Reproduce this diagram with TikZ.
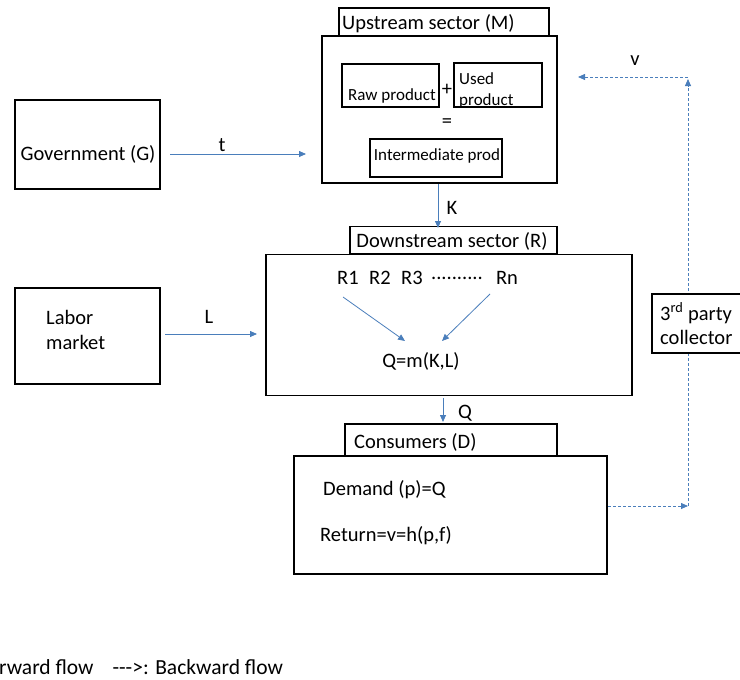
\documentclass[tikz,border=0pt]{standalone}
\usepackage{fontspec}
\setmainfont{Carlito}
\usetikzlibrary{arrows.meta}
\definecolor{flowblue}{HTML}{4A7EBB}

\begin{document}
\begin{tikzpicture}[x=1pt,y=-1pt,
  point/.style={coordinate},
  box/.style={draw=black, line width=1.6pt, rectangle, inner sep=0pt, fill=white},
  txt/.style={inner sep=0pt, font=\fontsize{20.5}{24.5}\selectfont},
  small/.style={inner sep=0pt, font=\fontsize{17}{21}\selectfont},
  fwd/.style={draw=flowblue, line width=0.8pt, -{Triangle[length=7pt,width=6pt]}},
  bwd/.style={fwd, dash pattern=on 3pt off 2pt}]
\useasboundingbox (0,0) rectangle (740,680);
% upstream
\node[box, minimum width=210pt, minimum height=28pt] (upt) at (444,22) {};
\node[txt, anchor=west] (uptx) at (342,24) {Upstream sector (M)};
\node[box, minimum width=235pt, minimum height=147pt] (up) at (439.5,109.5) {};
\node[box, minimum width=97pt, minimum height=43pt] (raw) at (390.5,85.5) {};
\node[small] (rawx) at (392,96) {Raw product};
\node[txt] (plus) at (447,90) {+};
\node[box, minimum width=88pt, minimum height=44pt] (used) at (498,85) {};
\node[small, anchor=west, align=left] (usedx) at (459,90) {Used\\product};
\node[txt] (eq) at (447,123) {=};
\node[box, minimum width=132pt, minimum height=38pt] (inter) at (436,158) {};
\node[small] (interx) at (437,156) {Intermediate prod};
% government and labor
\node[box, minimum width=145pt, minimum height=89pt] (gov) at (87.5,144.5) {};
\node[txt] (govx) at (88,154) {Government (G)};
\node[box, minimum width=145pt, minimum height=96pt] (lab) at (87.5,336) {};
\node[txt, anchor=west, align=left] (labx) at (46,330) {Labor\\market};
% downstream
\node[box, minimum width=207pt, minimum height=27pt] (dnt) at (453.5,240) {};
\node[txt] (dntx) at (452,241) {Downstream sector (R)};
\node[box, minimum width=366pt, minimum height=141pt] (dn) at (449,325) {};
\node[txt] (r1) at (348,278) {R1};
\node[txt] (r2) at (380,278) {R2};
\node[txt] (r3) at (412,278) {R3};
\node[txt] (rdots) at (457,278) {..........};
\node[txt] (rn) at (507,278) {Rn};
\node[txt] (qm) at (421,361) {Q=m(K,L)};
\node[point] (a1) at (343,297) {};
\node[point] (a2) at (490,294) {};
\node[point] (a3) at (405,341) {};
\node[point] (a4) at (442,341) {};
% consumers
\node[box, minimum width=212pt, minimum height=34pt] (cont) at (451,441) {};
\node[txt, anchor=west] (contx) at (354,442) {Consumers (D)};
\node[box, minimum width=313pt, minimum height=118pt] (con) at (450.5,515) {};
\node[txt, anchor=west] (demx) at (323,490) {Demand (p)=Q};
\node[txt, anchor=west] (retx) at (320,536) {Return=v=h(p,f)};
% forward flow
\node[point] (t0) at (170,154) {};
\node[point] (t1) at (306,154) {};
\node[txt] (tx) at (222,145) {t};
\node[point] (k0) at (438,184) {};
\node[point] (k1) at (438,228) {};
\node[txt] (kx) at (452,208) {K};
\node[point] (l0) at (165,334) {};
\node[point] (l1) at (257,334) {};
\node[txt] (lx) at (209,317) {L};
\node[point] (q0) at (443,398) {};
\node[point] (q1) at (443,422) {};
\node[txt] (qx) at (465,413) {Q};
\draw[fwd] (t0) -- (t1);
\draw[fwd] (k0) -- (k1);
\draw[fwd] (l0) -- (l1);
\draw[fwd] (q0) -- (q1);
\draw[fwd] (a1) -- (a3);
\draw[fwd] (a2) -- (a4);
% backward flow
\node[point] (b0) at (608,506) {};
\node[point] (b1) at (688,506) {};
\node[point] (b2) at (688,79) {};
\node[point] (b3) at (688,77) {};
\node[point] (b4) at (578,77) {};
\node[txt] (vx) at (635,61) {v};
\draw[bwd] (b0) -- (b1);
\draw[bwd] (b1) -- (b2);
\draw[bwd] (b3) -- (b4);
\node[box, minimum width=100pt, minimum height=59pt] (coll) at (702,323.5) {};
\node[txt, anchor=west, align=left] (collx) at (660,324) {3\textsuperscript{rd} party\\collector};
% legend
\node[txt, anchor=west, font=\fontsize{21.5}{25}\selectfont] (legx) at (-1,667) {rward flow\hspace{19pt}-{}-{}->: Backward flow};
\end{tikzpicture}
\end{document}
